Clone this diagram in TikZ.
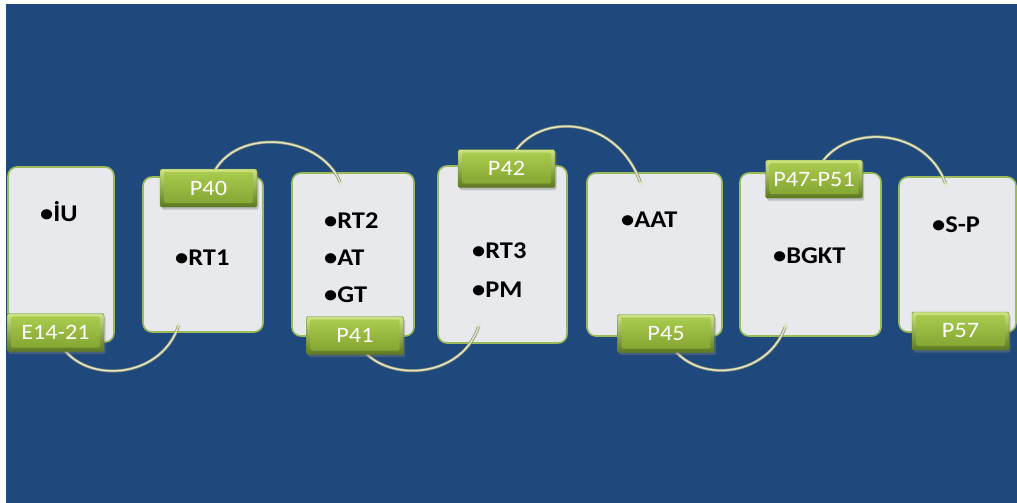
\documentclass[tikz,border=0pt]{standalone}
\usepackage{fontspec}
\setmainfont{Carlito}[FakeStretch=1.1]
\usetikzlibrary{arrows.meta,shadows}
\definecolor{bg}{RGB}{31,73,125}
\definecolor{cardline}{RGB}{155,187,89}
\definecolor{cardfill}{RGB}{231,233,237}
\definecolor{tagtop}{RGB}{206,228,132}
\definecolor{tagbot}{RGB}{92,120,32}
\definecolor{tagmidtop}{RGB}{172,206,80}
\definecolor{tagmidbot}{RGB}{128,162,48}
\definecolor{tagline}{RGB}{100,126,42}
\definecolor{arcdark}{RGB}{140,146,112}
\definecolor{arclight}{RGB}{226,229,200}
\tikzset{
  card/.style={draw=cardline, line width=1.6pt, fill=cardfill, rounded corners=9pt, inner sep=0pt},
  tag/.style={draw=tagline, line width=0.4pt, rounded corners=1.5pt, top color=tagtop, bottom color=tagbot,
    minimum width=97pt, minimum height=38pt, inner sep=0pt, text=white,
    font=\fontsize{22}{22}\selectfont,
    drop shadow={opacity=0.4, shadow xshift=1.5pt, shadow yshift=-2.5pt},
    path picture={\shade[top color=tagmidtop, bottom color=tagmidbot]
      ([xshift=4pt,yshift=-3pt]path picture bounding box.north west) rectangle
      ([xshift=-4pt,yshift=4pt]path picture bounding box.south east);}},
  lbl/.style={anchor=base west, inner sep=0pt, font=\fontsize{24}{24}\bfseries\selectfont, text=black},
  arcback/.style={draw=arcdark, line width=3pt},
  arcfront/.style={draw=arclight, line width=1.5pt, -{Stealth[length=6pt,width=5pt]}},
}
\begin{document}
\begin{tikzpicture}[x=1pt,y=-1pt]
\useasboundingbox (0,0) rectangle (1017,503);
\fill[bg] (6,4) rectangle (1017,503);
% cards
\node[card, minimum width=106pt, minimum height=175pt] (b1) at (61,254.5) {};
\node[card, minimum width=120pt, minimum height=155pt] (b2) at (203,254.5) {};
\node[card, minimum width=122pt, minimum height=163pt] (b3) at (353,254.5) {};
\node[card, minimum width=129pt, minimum height=177pt] (b4) at (502.5,254.5) {};
\node[card, minimum width=135pt, minimum height=163pt] (b5) at (654.5,254.5) {};
\node[card, minimum width=141pt, minimum height=163pt] (b6) at (810.5,254.5) {};
\node[card, minimum width=117pt, minimum height=155pt] (b7) at (957.5,254.5) {};
% labels
\node[lbl] (x1) at (40,221) {•İU};
\node[lbl] (x2) at (175,265) {•RT1};
\node[lbl] (x3) at (324,228) {•RT2};
\node[lbl] (x4) at (324,265) {•AT};
\node[lbl] (x5) at (324,302) {•GT};
\node[lbl] (x6) at (472,258) {•RT3};
\node[lbl] (x7) at (472,297) {•PM};
\node[lbl] (x8) at (621,227) {•AAT};
\node[lbl] (x9) at (773,263) {•BGKT};
\node[lbl] (x10) at (932,232) {•S-P};
% tag positions
\coordinate (c1) at (55.5,332.5);
\coordinate (c2) at (208.5,188);
\coordinate (c3) at (355,335.5);
\coordinate (c4) at (506.5,168.5);
\coordinate (c5) at (666,333.5);
\coordinate (c6) at (814,179);
\coordinate (c7) at (960.5,331);
% arc ends
\coordinate (e2) at (180,321);
\coordinate (e3) at (342,187);
\coordinate (e4) at (480,322);
\coordinate (e5) at (642,187);
\coordinate (e6) at (787,322);
\coordinate (e7) at (947,188);
% arcs
\foreach \s/\a/\b/\e in {c1/{70,385}/{160,385}/e2, c2/{220,125}/{320,130}/e3, c3/{370,383}/{460,385}/e4,
  c4/{525,110}/{615,110}/e5, c5/{680,383}/{765,385}/e6, c6/{830,122}/{925,122}/e7}{
  \draw[arcback, shorten >=4pt] (\s) .. controls (\a) and (\b) .. (\e);
  \draw[arcfront] (\s) .. controls (\a) and (\b) .. (\e);
}
% tags
\node[tag] (t1) at (c1) {E14-21};
\node[tag] (t2) at (c2) {P40};
\node[tag] (t3) at (c3) {P41};
\node[tag] (t4) at (c4) {P42};
\node[tag] (t5) at (c5) {P45};
\node[tag] (t6) at (c6) {P47-P51};
\node[tag] (t7) at (c7) {P57};
\end{tikzpicture}
\end{document}
